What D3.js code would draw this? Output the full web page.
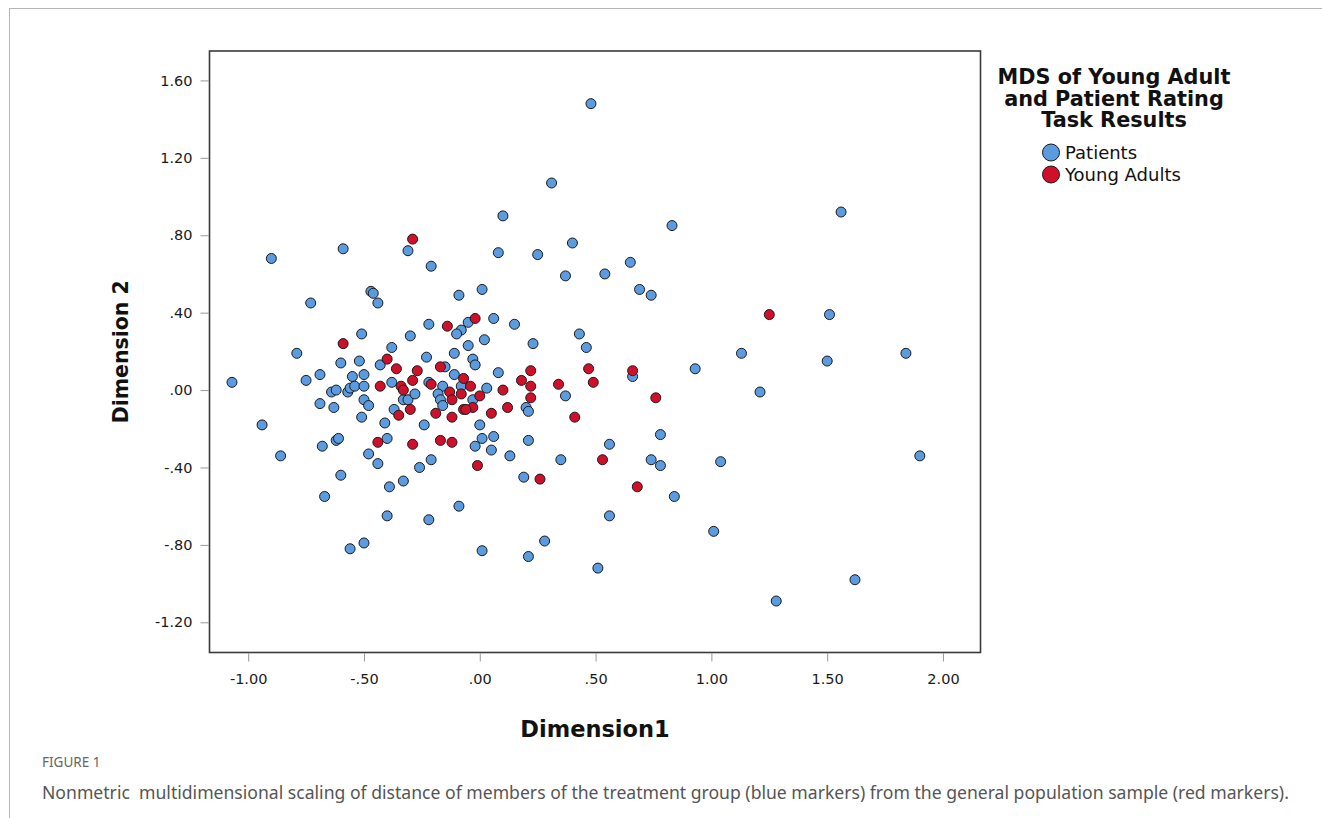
<!DOCTYPE html>
<html lang="en">
  <head>
    <meta charset="UTF-8">
    <title>MDS of Young Adult and Patient Rating Task Results</title>
    <script src="https://d3js.org/d3.v7.min.js"></script>
    <style>
      body { margin: 0; background: #fff; }
      svg { display: block; }
    </style>
  </head>
  <body>
    <script>
      // Patients (blue) [dim1, dim2]
      const patients = [
        [0.48, 1.48], [0.31, 1.07], [0.10, 0.90], [0.83, 0.85], [1.56, 0.92],
        [-0.31, 0.72], [-0.59, 0.73], [-0.90, 0.68], [0.08, 0.71], [0.25, 0.70],
        [0.40, 0.76], [-0.21, 0.64], [0.37, 0.59], [0.65, 0.66], [0.54, 0.60],
        [0.69, 0.52], [0.74, 0.49], [-0.47, 0.51], [-0.46, 0.50], [-0.44, 0.45],
        [-0.73, 0.45], [-0.09, 0.49], [0.01, 0.52], [1.51, 0.39], [-0.05, 0.35],
        [-0.08, 0.31], [-0.10, 0.29], [0.06, 0.37], [0.15, 0.34], [-0.22, 0.34],
        [-0.30, 0.28], [-0.51, 0.29], [0.43, 0.29], [0.02, 0.26], [0.46, 0.22],
        [1.13, 0.19], [1.84, 0.19], [1.50, 0.15], [0.93, 0.11], [0.66, 0.07],
        [1.21, -0.01], [0.78, -0.23], [0.56, -0.28], [0.74, -0.36], [0.78, -0.39],
        [1.04, -0.37], [1.90, -0.34], [0.84, -0.55], [0.56, -0.65], [1.01, -0.73],
        [0.51, -0.92], [1.62, -0.98], [1.28, -1.09], [-0.67, -0.55], [-0.39, -0.50],
        [-0.33, -0.47], [-0.40, -0.65], [-0.22, -0.67], [-0.09, -0.60], [-0.56, -0.82],
        [-0.50, -0.79], [0.01, -0.83], [0.21, -0.86], [0.28, -0.78], [-1.07, 0.04],
        [-0.94, -0.18], [-0.86, -0.34], [-0.79, 0.19], [-0.75, 0.05], [-0.69, 0.08],
        [-0.69, -0.07], [-0.68, -0.29], [-0.63, -0.09], [-0.60, -0.44], [-0.60, 0.14],
        [-0.52, 0.15], [-0.55, 0.07], [-0.50, 0.08], [-0.64, -0.01], [-0.62, 0.00],
        [-0.57, -0.01], [-0.56, 0.01], [-0.54, 0.02], [-0.50, 0.02], [-0.50, -0.05],
        [-0.48, -0.08], [-0.51, -0.14], [-0.62, -0.26], [-0.61, -0.25], [-0.48, -0.33],
        [-0.44, -0.38], [-0.40, -0.25], [-0.41, -0.17], [-0.37, -0.10], [-0.43, 0.13],
        [-0.38, 0.22], [-0.38, 0.04], [-0.33, -0.05], [-0.31, -0.05], [-0.28, -0.02],
        [-0.05, 0.23], [-0.11, 0.19], [-0.23, 0.17], [-0.03, 0.16], [-0.02, 0.13],
        [-0.15, 0.12], [-0.11, 0.08], [-0.22, 0.04], [-0.16, 0.02], [-0.08, 0.02],
        [0.03, 0.01], [-0.18, -0.02], [-0.17, -0.05], [-0.16, -0.08], [-0.03, -0.05],
        [-0.24, -0.18], [0.00, -0.18], [-0.02, -0.29], [0.01, -0.25], [0.06, -0.24],
        [0.05, -0.31], [-0.21, -0.36], [-0.26, -0.40], [0.08, 0.09], [0.23, 0.24],
        [0.20, -0.09], [0.21, -0.11], [0.13, -0.34], [0.21, -0.26], [0.19, -0.45],
        [0.37, -0.03], [0.35, -0.36]
      ];

      // Young Adults (red) [dim1, dim2]
      const youngAdults = [
        [-0.29, 0.78], [-0.02, 0.37], [-0.14, 0.33], [-0.59, 0.24], [-0.40, 0.16],
        [-0.36, 0.11], [-0.27, 0.10], [-0.17, 0.12], [-0.43, 0.02], [-0.34, 0.02],
        [-0.33, 0.00], [-0.29, 0.05], [-0.21, 0.03], [-0.35, -0.13], [-0.30, -0.10],
        [-0.44, -0.27], [-0.29, -0.28], [-0.17, -0.26], [-0.12, -0.27], [-0.07, 0.06],
        [-0.04, 0.02], [-0.13, -0.01], [-0.08, -0.02], [-0.12, -0.05], [0.00, -0.03],
        [-0.03, -0.09], [-0.07, -0.10], [-0.06, -0.10], [-0.19, -0.12], [-0.12, -0.14],
        [0.05, -0.12], [-0.01, -0.39], [0.10, 0.00], [0.12, -0.09], [0.22, 0.10],
        [0.18, 0.05], [0.22, 0.02], [0.22, -0.04], [0.26, -0.46], [0.34, 0.03],
        [0.41, -0.14], [0.47, 0.11], [0.49, 0.04], [0.53, -0.36], [0.66, 0.10],
        [0.76, -0.04], [0.68, -0.50], [1.25, 0.39]
      ];

      const xTicks = [-1.0, -0.5, 0.0, 0.5, 1.0, 1.5, 2.0];
      const yTicks = [-1.2, -0.8, -0.4, 0.0, 0.4, 0.8, 1.2, 1.6];
      const seriesNames = ["Patients", "Young Adults"];
      const seriesColors = ["#5b9be0", "#d0102a"];

      const W = 1322, H = 818;
      const plot = { left: 209.5, right: 980.5, top: 51, bottom: 652.5 };

      const fmt = v => {
        let s = Math.abs(v).toFixed(2);
        if (s.startsWith("0")) s = s.slice(1);
        return (v < 0 ? "-" : "") + s;
      };

      const svg = d3.select("body")
        .append("svg")
        .attr("width", W)
        .attr("height", H);

      // page border lines
      svg.append("line")
        .attr("x1", 9).attr("x2", W).attr("y1", 8.5).attr("y2", 8.5)
        .attr("stroke", "#b5b5b5");
      svg.append("line")
        .attr("x1", 9.5).attr("x2", 9.5).attr("y1", 8).attr("y2", H)
        .attr("stroke", "#b5b5b5");

      const x = d3.scaleLinear()
        .domain([-1.167, 2.162])
        .range([plot.left, plot.right]);
      const y = d3.scaleLinear()
        .domain([-1.356, 1.752])
        .range([plot.bottom, plot.top]);

      const xAxis = d3.axisBottom(x).tickValues(xTicks).tickFormat(fmt)
        .tickSizeInner(8).tickSizeOuter(0).tickPadding(12);
      const yAxis = d3.axisLeft(y).tickValues(yTicks).tickFormat(fmt)
        .tickSizeInner(8).tickSizeOuter(0).tickPadding(8);

      const gx = svg.append("g")
        .attr("transform", `translate(0,${plot.bottom + 1})`)
        .call(xAxis);
      const gy = svg.append("g")
        .attr("transform", `translate(${plot.left - 1},0)`)
        .call(yAxis);

      [gx, gy].forEach(g => {
        g.select(".domain").remove();
        g.selectAll(".tick line").attr("stroke", "#999");
        g.selectAll(".tick text")
          .attr("fill", "#1a1a1a")
          .style("font-family", "'DejaVu Sans', sans-serif")
          .style("font-size", "14.5px");
      });

      // points
      const drawSeries = (data, color) => {
        svg.append("g")
          .selectAll("circle")
          .data(data)
          .enter()
          .append("circle")
          .attr("cx", d => x(d[0]))
          .attr("cy", d => y(d[1]))
          .attr("r", 5)
          .attr("fill", color)
          .attr("stroke", "#1a1a1a")
          .attr("stroke-width", 1);
      };
      drawSeries(patients, seriesColors[0]);
      drawSeries(youngAdults, seriesColors[1]);

      // frame
      svg.append("rect")
        .attr("x", plot.left)
        .attr("y", plot.top)
        .attr("width", plot.right - plot.left)
        .attr("height", plot.bottom - plot.top)
        .attr("fill", "none")
        .attr("stroke", "#3a3a3a")
        .attr("stroke-width", 1.6);

      // axis titles
      svg.append("text")
        .attr("x", (plot.left + plot.right) / 2)
        .attr("y", 737)
        .attr("text-anchor", "middle")
        .style("font-family", "'DejaVu Sans', sans-serif")
        .style("font-weight", "bold")
        .style("font-size", "22.5px")
        .attr("fill", "#111")
        .text("Dimension1");

      svg.append("text")
        .attr("transform", `translate(128,${(plot.top + plot.bottom) / 2}) rotate(-90)`)
        .attr("text-anchor", "middle")
        .style("font-family", "'DejaVu Sans', sans-serif")
        .style("font-weight", "bold")
        .style("font-size", "20.5px")
        .attr("fill", "#111")
        .text("Dimension 2");

      // legend
      const legendTitle = ["MDS of Young Adult", "and Patient Rating", "Task Results"];
      svg.append("g")
        .selectAll("text")
        .data(legendTitle)
        .enter()
        .append("text")
        .attr("x", 1114)
        .attr("y", (d, i) => 84 + i * 21.5)
        .attr("text-anchor", "middle")
        .style("font-family", "'DejaVu Sans', sans-serif")
        .style("font-weight", "bold")
        .style("font-size", "20.8px")
        .attr("fill", "#111")
        .text(d => d);

      const legend = svg.append("g")
        .selectAll("g")
        .data(seriesNames)
        .enter()
        .append("g")
        .attr("transform", (d, i) => `translate(1051,${152.5 + i * 22})`);
      legend.append("circle")
        .attr("r", 8.5)
        .attr("fill", (d, i) => seriesColors[i])
        .attr("stroke", "#1a1a1a")
        .attr("stroke-width", 1);
      legend.append("text")
        .attr("x", 14)
        .attr("y", 6.5)
        .style("font-family", "'DejaVu Sans', sans-serif")
        .style("font-size", "18px")
        .attr("fill", "#111")
        .text(d => d);

      // caption
      svg.append("text")
        .attr("x", 42)
        .attr("y", 767)
        .style("font-family", "'Noto Sans', sans-serif")
        .style("font-size", "13.5px")
        .attr("fill", "#666")
        .text("FIGURE 1");

      svg.append("text")
        .attr("x", 42)
        .attr("y", 799)
        .style("font-family", "'Noto Sans', sans-serif")
        .style("font-size", "17.6px")
        .attr("fill", "#555")
        .style("white-space", "pre")
        .text("Nonmetric  multidimensional scaling of distance of members of the treatment group (blue markers) from the general population sample (red markers).");
    </script>
  </body>
</html>
